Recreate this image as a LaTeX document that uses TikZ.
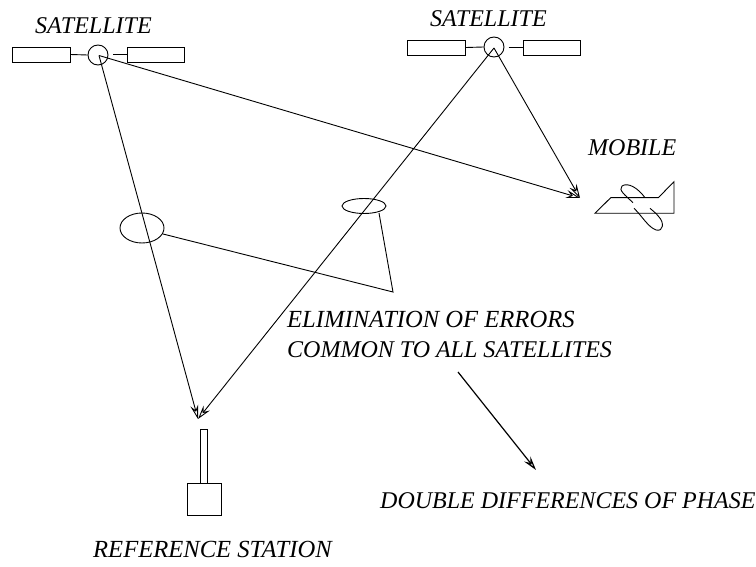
\documentclass[tikz,border=0pt]{standalone}
\usepackage{fontspec}
\setmainfont{Liberation Serif}
\usetikzlibrary{arrows.meta}
\tikzset{
  x=1pt,y=-1pt,
  line/.style={draw=black,line width=0.9pt},
  part/.style={draw=black,line width=0.9pt,fill=none},
  sig/.style={draw=black,line width=0.9pt,-{Stealth[length=14pt,width=8pt,inset=5pt,open]}},
  lab/.style={anchor=base west,inner sep=0pt,font=\itshape\fontsize{24}{28}\selectfont},
  labwide/.style={lab,font=\itshape\fontsize{24.6}{28}\selectfont},
  disc/.style={draw=black,line width=0.9pt,circle,minimum size=20pt,inner sep=0pt},
  box/.style={draw=black,line width=0.9pt,rectangle,inner sep=0pt},
}
\begin{document}
\begin{tikzpicture}
\useasboundingbox (0,0) rectangle (756,567);
% satellite 1
\node[box,minimum width=58pt,minimum height=15pt] (s1l) at (41,54.5) {};
\node[box,minimum width=57pt,minimum height=15pt] (s1r) at (155.5,54.5) {};
\node[disc] (s1) at (98,55) {};
\coordinate (s1a) at (99,55.5);
\draw[line] (s1l.east) -- (s1.west);
\draw[line] (113,54.5) coordinate (s1g) -- (s1r.west);
\node[lab] (t1) at (35,33.5) {SATELLITE};
% satellite 2
\node[box,minimum width=58pt,minimum height=15pt] (s2l) at (436.5,47.5) {};
\node[box,minimum width=57pt,minimum height=15pt] (s2r) at (551.5,47.5) {};
\node[disc] (s2) at (494,47) {};
\coordinate (s2a) at (494,48);
\draw[line] (s2l.east) -- (s2.west);
\draw[line] (508.5,47.5) coordinate (s2g) -- (s2r.west);
\node[lab] (t2) at (430,26.5) {SATELLITE};
% targets
\coordinate (mob) at (580,198);
\coordinate (ref) at (198,419);
\draw[sig] (s1a) -- (ref);
\draw[sig] (s1a) -- (mob);
\draw[sig] (s2a) -- (ref);
\draw[sig] (s2a) -- (mob);
% mobile
\node[lab] (t3) at (588,156) {MOBILE};
\draw[part,line join=miter] (595,213.3) -- (610.7,197.7) -- (658.3,197.7) -- (674,181.7) -- (674,213.3) -- cycle;
\draw[part] (633,202.7) .. controls (625,195) and (618,190) .. (622,186) .. controls (628,182) and (638,188) .. (645,197.7);
\draw[part] (634,208.3) .. controls (642,216) and (648,227) .. (656,230) .. controls (664,232) and (664,222) .. (659,217) .. controls (656,213) and (653,211) .. (650,208.3);
% ellipses
\draw[part] (142,228) ellipse [x radius=22,y radius=15];
\draw[part] (364,206) ellipse [x radius=22,y radius=7.5];
\coordinate (e1) at (163,234);
\coordinate (e2) at (379,213);
\coordinate (apex) at (393,292);
\draw[line,line join=miter] (e1) -- (apex) -- (e2);
% texts
\node[labwide] (t4) at (287,327) {ELIMINATION OF ERRORS};
\node[lab] (t5) at (287,357) {COMMON TO ALL SATELLITES};
\node[lab] (t6) at (380,508) {DOUBLE DIFFERENCES OF PHASE};
\node[labwide] (t7) at (93,557) {REFERENCE STATION};
% arrow
\coordinate (da) at (458,372);
\coordinate (db) at (536,470);
\draw[sig,line width=1.2pt] (da) -- (db);
% station
\node[box,minimum width=7pt,minimum height=54pt] (ant) at (203.5,456) {};
\node[box,minimum width=34pt,minimum height=32pt] (base) at (204,499) {};
\end{tikzpicture}
\end{document}
